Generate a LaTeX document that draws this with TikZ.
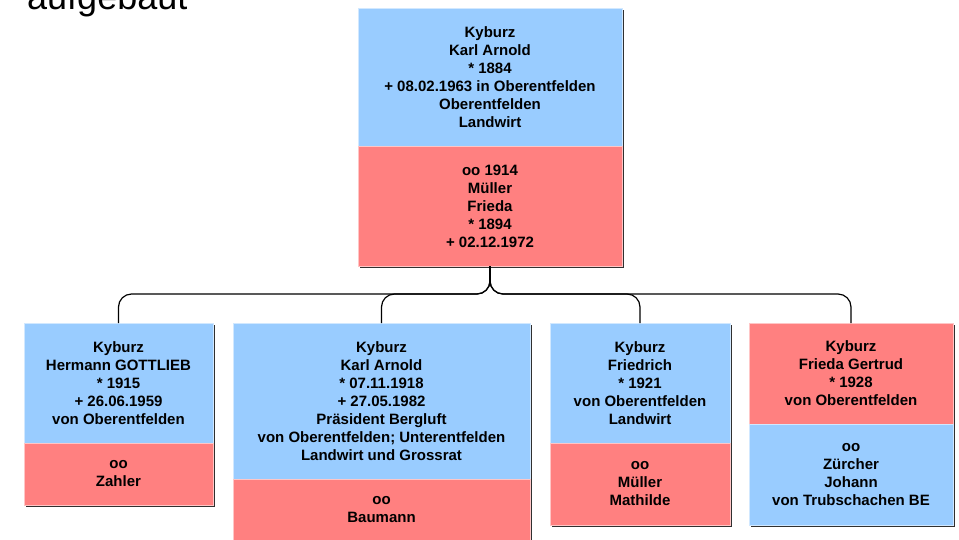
\documentclass[tikz,border=0pt]{standalone}
\usepackage{fontspec}
\setmainfont{Liberation Sans}
\usetikzlibrary{backgrounds,calc}
\definecolor{pblue}{HTML}{99CCFF}
\definecolor{pred}{HTML}{FF8080}
\definecolor{shadowc}{HTML}{303030}
\pgfdeclarelayer{bottom}
\pgfsetlayers{bottom,background,main}
\begin{document}
\begin{tikzpicture}[x=1pt,y=-1pt,
  part/.style={draw=#1!45!white, fill=#1, line width=0.8pt, inner sep=0pt, outer sep=0pt,
    anchor=north west, align=center, font=\fontsize{15}{18}\selectfont\bfseries},
  link/.style={draw=black, line width=1.2pt, rounded corners=13pt},
  shadowbox/.style={fill=shadowc},
  titletext/.style={anchor=base west, inner sep=0pt, font=\fontsize{36}{40}\selectfont}
]
\useasboundingbox (0,0) rectangle (959,539);
\begin{pgfonlayer}{bottom}
  \fill[white] (0,0) rectangle (959,539);
\end{pgfonlayer}
\clip (0,0) rectangle (959,539);

\node[titletext] (title) at (27,9) {aufgebaut};

% top couple
\node[part=pblue, minimum width=264, minimum height=138] (p0a) at (358,8)
  {Kyburz\\Karl Arnold\\* 1884\\+ 08.02.1963 in Oberentfelden\\Oberentfelden\\Landwirt};
\node[part=pred, minimum width=264, minimum height=120] (p0b) at (358,146)
  {oo 1914\\Müller\\Frieda\\* 1894\\+ 02.12.1972};

% children
\node[part=pblue, minimum width=189, minimum height=120] (c1a) at (24,323)
  {Kyburz\\Hermann GOTTLIEB\\* 1915\\+ 26.06.1959\\von Oberentfelden};
\node[part=pred, minimum width=189, minimum height=62] (c1b) at (24,443)
  {oo\\Zahler};

\node[part=pblue, minimum width=297, minimum height=156] (c2a) at (233,323)
  {Kyburz\\Karl Arnold\\* 07.11.1918\\+ 27.05.1982\\Präsident Bergluft\\von Oberentfelden; Unterentfelden\\Landwirt und Grossrat};
\node[part=pred, minimum width=297, minimum height=62] (c2b) at (233,479)
  {oo\\Baumann};

\node[part=pblue, minimum width=180, minimum height=120] (c3a) at (550,323)
  {Kyburz\\Friedrich\\* 1921\\von Oberentfelden\\Landwirt};
\node[part=pred, minimum width=180, minimum height=82] (c3b) at (550,443)
  {oo\\Müller\\Mathilde};

\node[part=pred, minimum width=204, minimum height=101] (c4a) at (749,323)
  {Kyburz\\Frieda Gertrud\\* 1928\\von Oberentfelden};
\node[part=pblue, minimum width=204, minimum height=101] (c4b) at (749,424)
  {oo\\Zürcher\\Johann\\von Trubschachen BE};

% shadows
\begin{scope}[on background layer]
  \foreach \a/\b in {p0a/p0b,c1a/c1b,c2a/c2b,c3a/c3b,c4a/c4b}
    \fill[shadowbox] ($(\a.north west)+(2,2)$) rectangle ($(\b.south east)+(2,2)$);
\end{scope}

% connectors
\coordinate (bus) at (490,294);
\foreach \c in {c1a,c2a,c3a,c4a}
  \draw[link] (p0b.south) |- (\c.north |- bus) -- (\c.north);
\end{tikzpicture}
\end{document}
